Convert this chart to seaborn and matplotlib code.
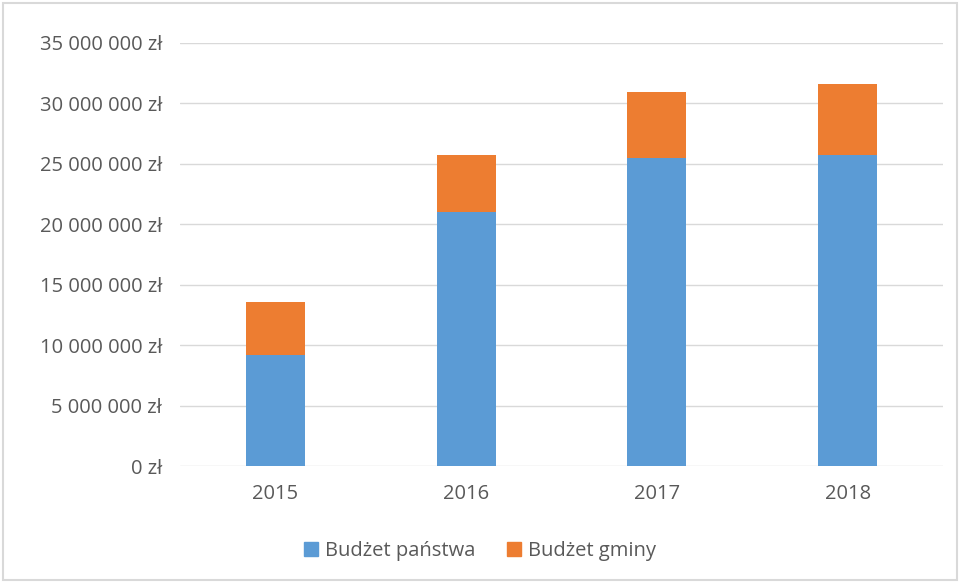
import matplotlib
matplotlib.use("Agg")
import matplotlib.pyplot as plt
import seaborn as sns
from matplotlib.patches import Patch, Rectangle
from matplotlib.ticker import FuncFormatter, MultipleLocator

years = ["2015", "2016", "2017", "2018"]
budzet_panstwa = [9200000, 21000000, 25450000, 25750000]
budzet_gminy = [4400000, 4700000, 5500000, 5850000]

blue = "#5B9BD5"
orange = "#ED7D31"
txt = "#595959"

sns.set_theme(style="white")
plt.rcParams["font.family"] = ["Open Sans", "DejaVu Sans"]

fig = plt.figure(figsize=(9.6, 5.83), dpi=100)
ax = fig.add_axes([180 / 960, 1 - 466 / 583, 763 / 960, 423 / 583])

sns.barplot(x=years, y=budzet_panstwa, color=blue, width=0.31, ax=ax,
            saturation=1, linewidth=0)
sns.barplot(x=years, y=budzet_gminy, bottom=budzet_panstwa, color=orange,
            width=0.31, ax=ax, saturation=1, linewidth=0)

ax.set_ylim(0, 35000000)
ax.set_xlim(-0.5, 3.5)
ax.yaxis.set_major_locator(MultipleLocator(5000000))
ax.yaxis.set_major_formatter(FuncFormatter(lambda v, p: f"{int(v):,}".replace(",", " ") + " zł"))
ax.grid(axis="y", color="#D9D9D9", linewidth=1)
ax.set_axisbelow(True)
for s in ax.spines.values():
    s.set_visible(False)
ax.tick_params(axis="both", length=0, labelsize=14.5, labelcolor=txt)
ax.tick_params(axis="y", pad=13)
ax.tick_params(axis="x", pad=13)

handles = [Patch(color=blue, label="Budżet państwa"), Patch(color=orange, label="Budżet gminy")]
fig.legend(handles=handles, loc="center", bbox_to_anchor=(0.5, 1 - 551 / 583), ncol=2,
           frameon=False, fontsize=14.5, labelcolor=txt, handlelength=0.7, handleheight=0.7,
           columnspacing=1.6, handletextpad=0.35)

fig.patches.append(Rectangle((3 / 960, 3 / 583), 954 / 960, 577 / 583, transform=fig.transFigure,
                             fill=False, edgecolor="#D9D9D9", linewidth=1.5))

fig.savefig("out.png", dpi=100, facecolor="white")
